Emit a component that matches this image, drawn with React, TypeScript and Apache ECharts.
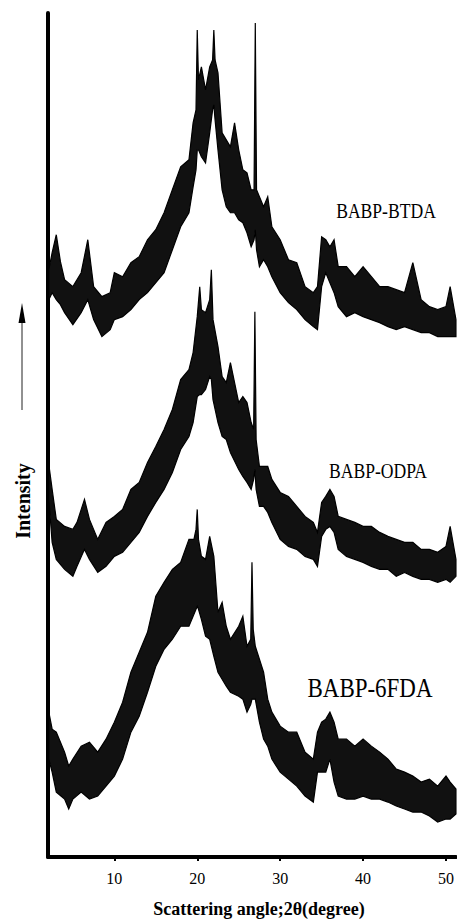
import React, { useEffect, useRef } from "react";
import * as echarts from "echarts";

// Tick values on the 2θ axis
const xTicks = [10, 20, 30, 40, 50];

// BABP-BTDA (upper and lower edge of the noisy trace, arbitrary intensity units)
const btdaDeg = [2.1, 2.5, 3.0, 3.5, 4.0, 5.0, 6.0, 6.8, 7.5, 8.5, 9.5, 10.0, 11.0, 12.0, 13.0, 14.0, 15.0, 16.0, 17.0, 18.0, 19.0, 19.5, 19.85, 20.0, 20.15, 20.5, 21.0, 21.5, 21.85, 22.0, 22.15, 22.5, 23.0, 23.5, 24.0, 24.5, 25.0, 25.5, 26.0, 26.5, 26.85, 27.0, 27.15, 27.5, 28.0, 28.5, 29.0, 30.0, 31.0, 32.0, 33.0, 34.0, 34.5, 35.0, 35.5, 36.0, 36.5, 37.0, 38.0, 39.0, 40.0, 41.0, 42.0, 43.0, 44.0, 45.0, 46.0, 47.0, 48.0, 49.0, 50.0, 50.5, 51.2];
const btdaTop = [588, 605, 623, 596, 578, 571, 585, 618, 571, 561, 565, 585, 581, 595, 601, 618, 628, 645, 668, 691, 698, 735, 748, 828, 778, 791, 768, 791, 798, 828, 798, 785, 725, 718, 711, 735, 708, 688, 685, 668, 668, 835, 668, 661, 651, 661, 631, 618, 598, 595, 571, 565, 571, 621, 618, 611, 618, 591, 591, 581, 591, 581, 571, 571, 568, 565, 595, 558, 551, 548, 551, 571, 538];
const btdaLow = [558, 565, 558, 553, 545, 533, 545, 558, 538, 521, 528, 538, 541, 548, 558, 565, 575, 585, 608, 631, 645, 671, 688, 708, 708, 701, 695, 725, 748, 753, 738, 708, 668, 651, 645, 645, 638, 635, 625, 611, 618, 628, 608, 591, 598, 591, 581, 565, 555, 548, 538, 531, 528, 571, 585, 575, 565, 551, 541, 545, 541, 538, 535, 531, 528, 531, 528, 525, 525, 521, 521, 521, 521];

// BABP-ODPA
const odpaDeg = [2.1, 2.5, 3.0, 4.0, 5.0, 5.5, 6.4, 7.0, 8.0, 9.0, 10.0, 11.0, 12.0, 13.0, 14.0, 15.0, 16.0, 17.0, 18.0, 19.0, 19.5, 20.0, 20.3, 20.5, 21.0, 21.5, 21.7, 21.9, 22.5, 23.0, 23.5, 24.0, 25.0, 25.5, 26.0, 26.5, 26.8, 26.95, 27.1, 27.5, 28.0, 28.5, 29.0, 30.0, 31.0, 32.0, 33.0, 34.0, 34.5, 35.0, 35.5, 36.0, 36.5, 37.0, 38.0, 39.0, 40.0, 41.0, 42.0, 43.0, 44.0, 45.0, 46.0, 47.0, 48.0, 49.0, 50.0, 50.5, 51.2];
const odpaTop = [393, 368, 338, 331, 328, 335, 358, 338, 318, 335, 341, 348, 368, 375, 395, 411, 428, 448, 478, 488, 505, 541, 571, 548, 545, 558, 588, 538, 511, 481, 475, 495, 455, 461, 455, 435, 428, 546, 418, 391, 391, 391, 378, 365, 361, 351, 341, 335, 325, 355, 361, 368, 361, 341, 338, 335, 331, 331, 325, 321, 318, 315, 315, 308, 308, 305, 311, 331, 298];
const odpaLow = [358, 315, 298, 288, 281, 291, 308, 298, 285, 291, 301, 305, 315, 325, 341, 355, 368, 385, 408, 421, 435, 461, 463, 463, 468, 481, 478, 458, 435, 421, 418, 405, 388, 381, 375, 368, 378, 388, 368, 351, 351, 345, 335, 318, 311, 308, 301, 298, 291, 321, 328, 331, 325, 308, 301, 298, 295, 291, 288, 288, 281, 285, 281, 278, 278, 275, 278, 275, 281];

// BABP-6FDA
const fdaDeg = [2.1, 2.5, 3.0, 4.0, 4.5, 5.0, 6.0, 7.0, 8.0, 9.0, 10.0, 11.0, 12.0, 13.0, 14.0, 15.0, 16.0, 17.0, 18.0, 19.0, 19.6, 19.85, 20.0, 20.15, 20.5, 21.0, 21.5, 22.0, 22.5, 23.0, 23.5, 24.0, 25.0, 25.5, 26.0, 26.45, 26.6, 26.75, 27.0, 27.5, 28.0, 28.5, 29.0, 30.0, 31.0, 32.0, 33.0, 34.0, 34.5, 35.0, 35.5, 36.0, 36.5, 37.0, 38.0, 39.0, 40.0, 41.0, 42.0, 43.0, 44.0, 45.0, 46.0, 47.0, 48.0, 49.0, 50.0, 50.5, 51.2];
const fdaTop = [145, 128, 125, 105, 91, 98, 111, 115, 105, 118, 135, 155, 185, 205, 225, 261, 275, 288, 295, 318, 318, 328, 348, 318, 301, 298, 321, 301, 245, 255, 231, 218, 231, 241, 211, 218, 295, 228, 211, 198, 185, 158, 145, 131, 125, 125, 105, 98, 125, 135, 138, 145, 135, 118, 118, 111, 118, 111, 105, 98, 88, 85, 81, 75, 78, 71, 81, 75, 68];
const fdaLow = [98, 85, 65, 58, 48, 58, 65, 58, 61, 71, 81, 98, 125, 141, 165, 191, 208, 218, 231, 231, 243, 248, 251, 248, 238, 221, 218, 201, 185, 178, 171, 165, 161, 158, 145, 153, 158, 158, 158, 135, 118, 111, 98, 85, 78, 71, 61, 55, 85, 85, 85, 98, 75, 61, 58, 58, 61, 58, 58, 55, 51, 48, 45, 45, 41, 35, 38, 38, 43];

const curveNames = ["BABP-BTDA", "BABP-ODPA", "BABP-6FDA"];

export default function App() {
  const ref = useRef<HTMLDivElement>(null);

  useEffect(() => {
    const chart = echarts.init(ref.current!, null, { renderer: "svg" });
    const curves = [
      { name: curveNames[0], deg: btdaDeg, top: btdaTop, low: btdaLow },
      { name: curveNames[1], deg: odpaDeg, top: odpaTop, low: odpaLow },
      { name: curveNames[2], deg: fdaDeg, top: fdaTop, low: fdaLow },
    ];
    const series = curves.map((c) => ({
      type: "custom",
      name: c.name,
      coordinateSystem: "cartesian2d",
      silent: true,
      data: c.deg.map((d, i) => [d, c.top[i], c.low[i]]),
      encode: { x: 0, y: [1, 2] },
      renderItem: (params: any, api: any) => {
        if (params.dataIndex !== 0) return null;
        const pts: number[][] = [];
        for (let i = 0; i < c.deg.length; i++) pts.push(api.coord([c.deg[i], c.top[i]]));
        for (let i = c.deg.length - 1; i >= 0; i--) pts.push(api.coord([c.deg[i], c.low[i]]));
        return {
          type: "polygon",
          shape: { points: pts },
          style: { fill: "#111", stroke: "#000", lineWidth: 1.2, lineJoin: "miter" },
        };
      },
    }));

    const serif = "'Liberation Serif', 'Times New Roman', serif";

    chart.setOption({
      animation: false,
      backgroundColor: "#ffffff",
      grid: { left: 48, right: 0, top: 13, bottom: 62 },
      xAxis: {
        type: "value",
        min: 2,
        max: 51.2,
        axisLine: { show: true, onZero: false, lineStyle: { color: "#000", width: 4 } },
        axisTick: { show: true, inside: false, length: 4, lineStyle: { color: "#000", width: 2 }, customValues: xTicks },
        axisLabel: { show: true, customValues: xTicks, color: "#000", fontFamily: serif, fontSize: 16, margin: 13 },
        splitLine: { show: false },
      },
      yAxis: {
        type: "value",
        min: 0,
        max: 845,
        axisLine: { show: true, lineStyle: { color: "#000", width: 4 } },
        axisTick: { show: false },
        axisLabel: { show: false },
        splitLine: { show: false },
      },
      series,
      graphic: [
        {
          type: "text",
          x: 259,
          y: 909,
          style: {
            text: "Scattering angle;2θ(degree)",
            fill: "#000",
            font: `bold 18px ${serif}`,
            align: "center",
            verticalAlign: "middle",
          },
        },
        {
          type: "text",
          x: 23,
          y: 501,
          rotation: Math.PI / 2,
          style: {
            text: "Intensity",
            fill: "#000",
            font: `bold 20px ${serif}`,
            align: "center",
            verticalAlign: "middle",
          },
        },
        {
          type: "line",
          shape: { x1: 22, y1: 410, x2: 22, y2: 318 },
          style: { stroke: "#222", lineWidth: 1 },
        },
        {
          type: "polygon",
          shape: { points: [[22, 303], [18.5, 323], [25.5, 323]] },
          style: { fill: "#000" },
        },
        {
          type: "text",
          x: 386,
          y: 210,
          scaleX: 0.8,
          style: { text: curveNames[0], fill: "#000", font: `22px ${serif}`, align: "center", verticalAlign: "middle" },
        },
        {
          type: "text",
          x: 378,
          y: 470,
          scaleX: 0.8,
          style: { text: curveNames[1], fill: "#000", font: `22px ${serif}`, align: "center", verticalAlign: "middle" },
        },
        {
          type: "text",
          x: 370,
          y: 688,
          scaleX: 0.82,
          style: { text: curveNames[2], fill: "#000", font: `28px ${serif}`, align: "center", verticalAlign: "middle" },
        },
      ],
    });

    return () => chart.dispose();
  }, []);

  return (
    <div
      ref={ref}
      style={{ position: "fixed", left: 0, top: 0, width: 457, height: 919, background: "#fff" }}
    />
  );
}
